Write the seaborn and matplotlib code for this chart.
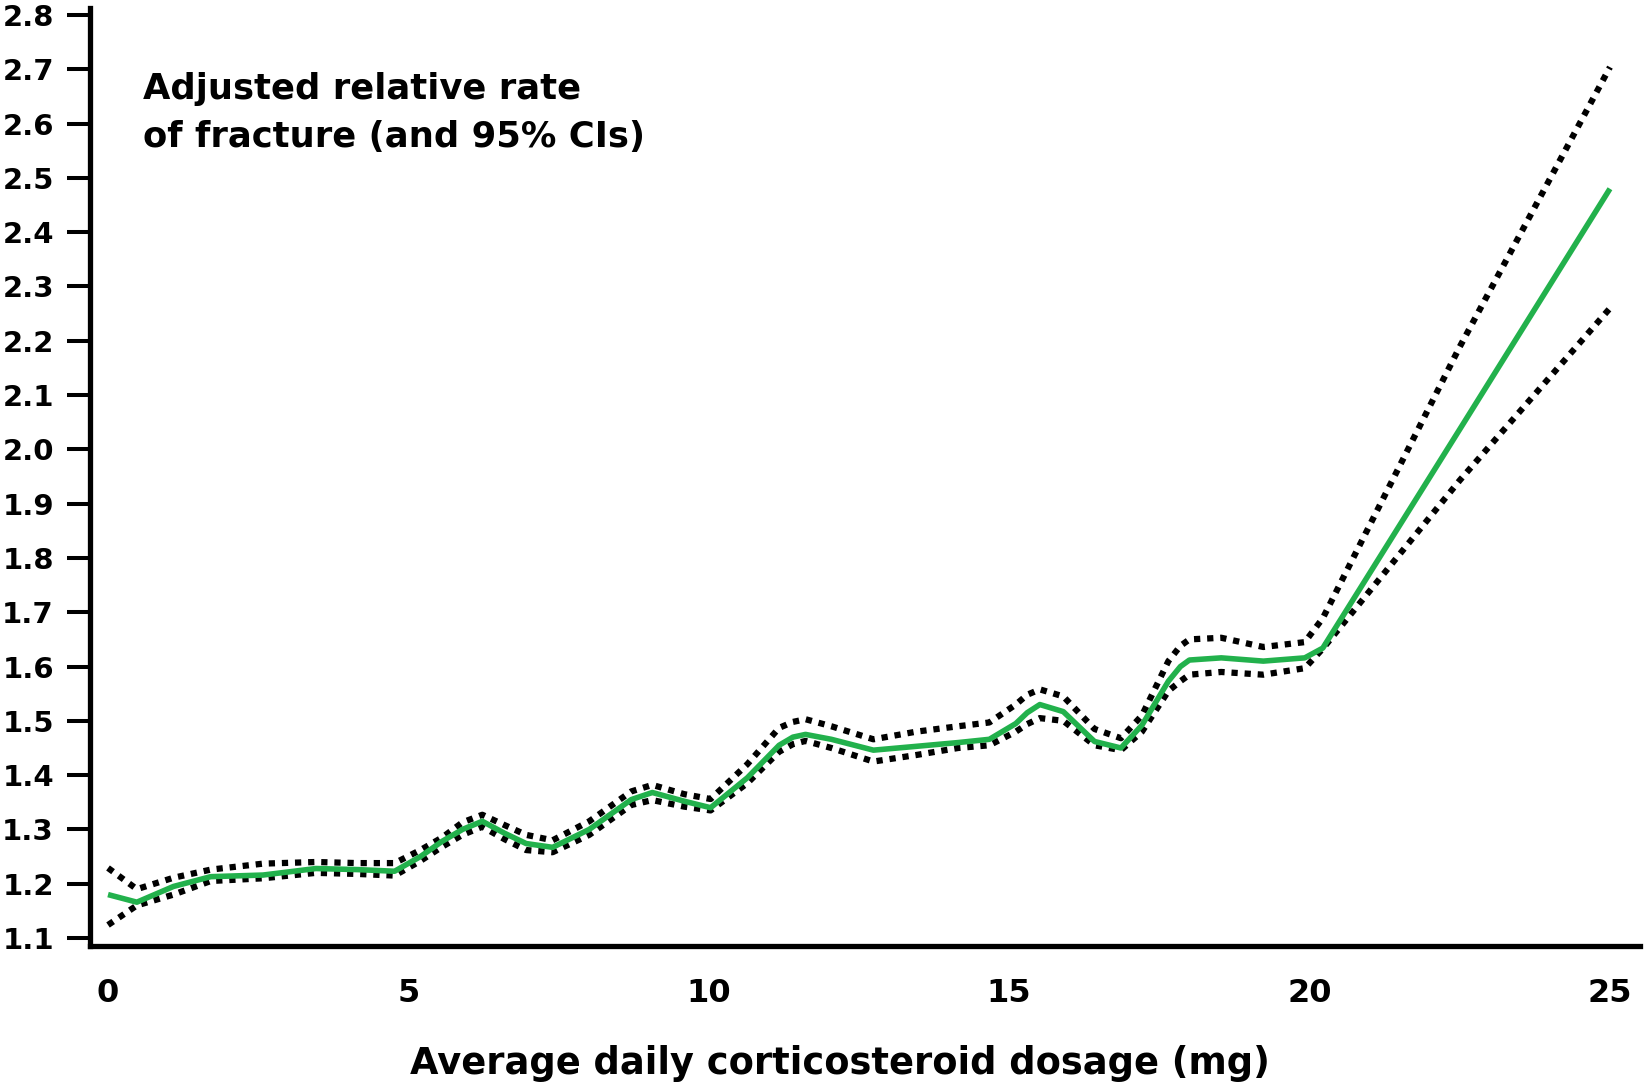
import numpy as np
import pandas as pd
import matplotlib
matplotlib.use("Agg")
import matplotlib.pyplot as plt
import seaborn as sns

# ---- data ----
dose = [0.0, 0.48, 1.09, 1.71, 2.58, 3.46, 4.16, 4.77, 5.2, 5.56, 5.9, 6.23,
        6.6, 6.96, 7.40, 8.01, 8.71, 9.06, 9.59, 10.03, 10.64, 11.17, 11.4,
        11.61, 12.04, 12.74, 13.45, 14.15, 14.67, 15.11, 15.3, 15.51, 15.90,
        16.42, 16.86, 17.21, 17.65, 17.85, 18.00, 18.53, 19.23, 19.92, 20.22,
        22.5, 25.0]
rate = [1.180, 1.166, 1.195, 1.213, 1.216, 1.228, 1.226, 1.223, 1.250, 1.278,
        1.300, 1.315, 1.293, 1.274, 1.267, 1.300, 1.355, 1.368, 1.352, 1.340,
        1.395, 1.455, 1.470, 1.475, 1.466, 1.446, 1.453, 1.460, 1.466, 1.495,
        1.515, 1.530, 1.517, 1.462, 1.450, 1.492, 1.573, 1.600, 1.612, 1.616,
        1.610, 1.616, 1.634, 2.037, 2.480]
upper = [1.229, 1.190, 1.211, 1.226, 1.237, 1.240, 1.238, 1.238, 1.262, 1.285,
         1.313, 1.327, 1.308, 1.290, 1.280, 1.315, 1.370, 1.382, 1.365, 1.356,
         1.420, 1.487, 1.498, 1.503, 1.490, 1.466, 1.480, 1.490, 1.497, 1.530,
         1.548, 1.558, 1.545, 1.485, 1.468, 1.510, 1.610, 1.638, 1.650, 1.653,
         1.636, 1.645, 1.689, 2.189, 2.704]
lower = [1.124, 1.160, 1.180, 1.205, 1.210, 1.220, 1.218, 1.215, 1.242, 1.268,
         1.290, 1.305, 1.282, 1.262, 1.258, 1.290, 1.345, 1.354, 1.342, 1.335,
         1.385, 1.443, 1.457, 1.463, 1.450, 1.425, 1.437, 1.450, 1.455, 1.480,
         1.494, 1.505, 1.500, 1.455, 1.446, 1.480, 1.555, 1.573, 1.585, 1.590,
         1.585, 1.597, 1.633, 1.943, 2.260]

x_ticks = [0, 5, 10, 15, 20, 25]
y_ticks = [1.1, 1.2, 1.3, 1.4, 1.5, 1.6, 1.7, 1.8, 1.9, 2.0,
           2.1, 2.2, 2.3, 2.4, 2.5, 2.6, 2.7, 2.8]
y_tick_labels = [f"{v:.1f}" for v in y_ticks]

annotation = "Adjusted relative rate\nof fracture (and 95% CIs)"
x_label = "Average daily corticosteroid dosage (mg)"

df = pd.DataFrame({"dose": dose, "rate": rate, "upper": upper, "lower": lower})

# ---- style ----
sns.set_theme(style="white")
plt.rcParams["font.family"] = ["DejaVu Sans"]
plt.rcParams["font.weight"] = "bold"

fig = plt.figure(figsize=(16.5, 10.85), dpi=100)
ax = fig.add_axes([90 / 1650, 139 / 1085, 1550 / 1650, (946 - 8) / 1085])

dot_style = (0, (1, 1.1))
sns.lineplot(data=df, x="dose", y="upper", ax=ax, color="black", lw=4.5,
             linestyle=dot_style, dash_capstyle="butt", sort=False)
sns.lineplot(data=df, x="dose", y="lower", ax=ax, color="black", lw=4.5,
             linestyle=dot_style, dash_capstyle="butt", sort=False)
sns.lineplot(data=df, x="dose", y="rate", ax=ax, color="#22b14c", lw=4.0,
             solid_capstyle="butt", solid_joinstyle="round", sort=False)

ax.set_xlim(-0.30, 25.5)
ax.set_ylim(1.0853, 2.8129)

ax.set_yticks(y_ticks)
ax.set_yticklabels(y_tick_labels)
ax.set_xticks(x_ticks)
ax.set_xticklabels([str(t) for t in x_ticks])

for s in ["top", "right"]:
    ax.spines[s].set_visible(False)
for s in ["left", "bottom"]:
    ax.spines[s].set_linewidth(3.8)
    ax.spines[s].set_color("black")

ax.tick_params(axis="y", direction="out", length=16.5, width=2.9, pad=9.5,
               labelsize=21, colors="black", left=True)
ax.tick_params(axis="x", length=0, pad=23, labelsize=23, colors="black")
for lab in ax.get_xticklabels() + ax.get_yticklabels():
    lab.set_fontweight("bold")

ax.set_ylabel("")
ax.set_xlabel(x_label, fontsize=26.5, fontweight="bold", color="black")
ax.xaxis.set_label_coords((840 - 90) / 1550, -(1063 - 946) / 938)
ax.xaxis.label.set_va("center")

ax.text((143 - 90) / 1550, (946 - 147) / 938, annotation, transform=ax.transAxes,
        fontsize=25.5, fontweight="bold", color="black", ha="left", va="baseline",
        linespacing=1.5)

ax.grid(False)
fig.savefig("out.png", dpi=100, facecolor="white")
